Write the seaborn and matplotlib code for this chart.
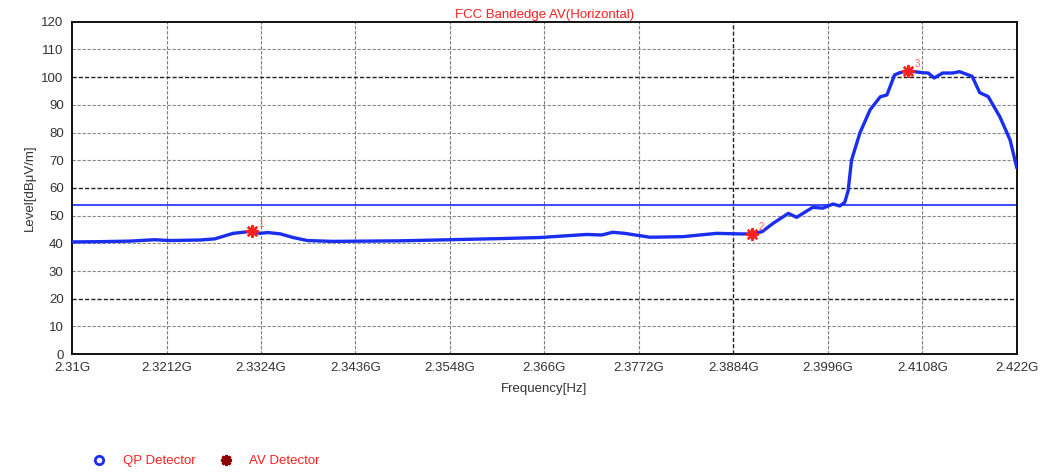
"""FCC bandedge AV scan (horizontal polarisation)."""

import matplotlib

matplotlib.use("Agg")
import matplotlib.pyplot as plt
import pandas as pd
import seaborn as sns
from matplotlib.lines import Line2D

# trace (frequency in GHz, level in dBuV/m)
freq_ghz = [
    2.3100, 2.3133, 2.3169, 2.3198, 2.3216, 2.3252, 2.3269, 2.3291, 2.3309,
    2.3313, 2.3323, 2.3332, 2.3347, 2.3362, 2.3379, 2.3409, 2.3489, 2.3548,
    2.3607, 2.3655, 2.3710, 2.3728, 2.3741, 2.3755, 2.3785, 2.3824, 2.3864,
    2.3892, 2.3906, 2.3918, 2.3931, 2.3949, 2.3959, 2.3978, 2.3990, 2.4002,
    2.4010, 2.4016, 2.4020, 2.4024, 2.4029, 2.4034, 2.4046, 2.4058, 2.4066,
    2.4075, 2.4081, 2.4091, 2.4109, 2.4115, 2.4122, 2.4132, 2.4144, 2.4152,
    2.4167, 2.4176, 2.4186, 2.4200, 2.4212, 2.4220,
]
level = [
    40.5, 40.6, 40.8, 41.3, 41.0, 41.2, 41.6, 43.6, 44.2,
    44.3, 43.6, 43.9, 43.4, 42.1, 41.0, 40.7, 40.9, 41.3,
    41.7, 42.1, 43.2, 43.0, 44.0, 43.6, 42.2, 42.4, 43.6,
    43.4, 43.4, 44.2, 47.2, 50.8, 49.4, 53.0, 52.7, 54.2,
    53.5, 54.8, 59.0, 70.0, 75.0, 79.9, 88.2, 92.9, 93.6,
    100.8, 101.6, 102.3, 101.6, 101.5, 99.7, 101.5, 101.5, 102.0,
    100.3, 94.4, 93.0, 85.6, 77.3, 67.2,
]

limit_level = 54.0

marker_ids = ["1", "2", "3"]
marker_freq = [2.3313, 2.3906, 2.4091]
marker_level = [44.3, 43.4, 102.3]

x_ticks = [2.31, 2.3212, 2.3324, 2.3436, 2.3548, 2.366, 2.3772, 2.3884,
           2.3996, 2.4108, 2.422]
x_tick_labels = ["2.31G", "2.3212G", "2.3324G", "2.3436G", "2.3548G", "2.366G",
                 "2.3772G", "2.3884G", "2.3996G", "2.4108G", "2.422G"]
y_ticks = list(range(0, 121, 10))

sns.set_style("white")
plt.rcParams["font.family"] = ["Liberation Sans", "DejaVu Sans"]

trace = pd.DataFrame({"freq": freq_ghz, "level": level})
marks = pd.DataFrame({"freq": marker_freq, "level": marker_level})

fig = plt.figure(figsize=(10.44, 4.74), dpi=100)
ax = fig.add_axes([0.069, 0.253, 0.905, 0.701])

# grid: a few lines darker, like the receiver software draws it
for i, xt in enumerate(x_ticks[1:-1], start=1):
    dark = i == 7
    ax.axvline(xt, color="#222222" if dark else "#7a7a7a",
               lw=1.0 if dark else 0.8, ls=(0, (3, 1.5)), zorder=0)
for yt in y_ticks[1:-1]:
    dark = yt in (20, 60, 100)
    ax.axhline(yt, color="#222222" if dark else "#8a8a8a",
               lw=1.0 if dark else 0.8, ls=(0, (3, 1.5)), zorder=0)

ax.axhline(limit_level, color="#2a3cff", lw=1.3, zorder=2)
sns.lineplot(data=trace, x="freq", y="level", ax=ax, color="#1a2ef0",
             lw=2.4, zorder=3)
sns.scatterplot(data=marks, x="freq", y="level", ax=ax, marker=(8, 2, 0),
                s=60, color="#ff2020", edgecolor="#ff2020", linewidth=1.8,
                zorder=4)
for mid, mf, ml in zip(marker_ids, marker_freq, marker_level):
    ax.annotate(mid, (mf, ml), xytext=(5, 3), textcoords="offset points",
                color="#ff6060", fontsize=7)

ax.set_xlim(x_ticks[0], x_ticks[-1])
ax.set_ylim(0, 120)
ax.set_xticks(x_ticks)
ax.set_xticklabels(x_tick_labels)
ax.set_yticks(y_ticks)
ax.tick_params(labelsize=9.5, colors="#333333", length=0, pad=6)
for side in ax.spines.values():
    side.set_color("#111111")
    side.set_linewidth(1.4)

ax.set_title("FCC Bandedge AV(Horizontal)", color="#ff2020", fontsize=9.5,
             pad=3)
ax.set_xlabel("Frequency[Hz]", fontsize=9.5, color="#333333", labelpad=6)
ax.set_ylabel("Level[dB\u03bcV/m]", fontsize=9.5, color="#333333", labelpad=4)

handles = [
    Line2D([], [], ls="none", marker="o", mfc="white", mec="#1a2ef0",
           mew=2, ms=6),
    Line2D([], [], ls="none", marker=(8, 2, 0), mec="#8b0000", mew=2, ms=8),
]
leg = fig.legend(handles, ["QP Detector", "AV Detector"], ncol=2,
                 loc="center left", bbox_to_anchor=(0.077, 0.027),
                 frameon=False, fontsize=9.5, handlelength=1.0,
                 handletextpad=1.3, columnspacing=1.8)
for txt in leg.get_texts():
    txt.set_color("#ff2020")

fig.savefig("out.png", dpi=100)
